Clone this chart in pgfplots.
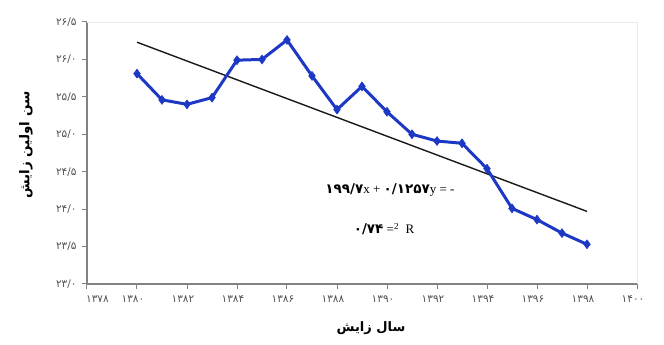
\documentclass[border=0pt]{standalone}
\usepackage{pgfplots}
\pgfplotsset{compat=1.18}
\usepackage{fontspec}
\setmainfont{Liberation Serif}
\newfontfamily\arabicfont[Script=Arabic]{DejaVu Sans}
\TeXXeTstate=1
\definecolor{lineblue}{RGB}{28,56,196}
\definecolor{axgray}{RGB}{130,130,130}
\definecolor{tickgray}{RGB}{80,80,80}
\pgfplotstableread{
year value
1380 25.81
1381 25.46
1382 25.40
1383 25.49
1384 25.99
1385 26.00
1386 26.26
1387 25.78
1388 25.33
1389 25.64
1390 25.30
1391 25.00
1392 24.91
1393 24.88
1394 24.54
1395 24.01
1396 23.86
1397 23.68
1398 23.53
}\agedata
\begin{document}
\begin{tikzpicture}
\useasboundingbox (-87pt,-61pt) rectangle (577pt,284pt);
\begin{axis}[
  at={(0pt,0pt)}, anchor=south west,
  scale only axis, width=550pt, height=262pt,
  xmin=1378, xmax=1400, ymin=23, ymax=26.5,
  axis x line*=bottom, axis y line*=left,
  axis line style={axgray, line width=1.3pt},
  tick align=outside,
  major tick length=5pt,
  tick style={axgray, line width=1pt},
  xtick={1378,1380,...,1400},
  xticklabels={{\hspace{29pt}۱۳۷۸},{۱۳۸۰},{۱۳۸۲},{۱۳۸۴},{۱۳۸۶},{۱۳۸۸},{۱۳۹۰},{۱۳۹۲},{۱۳۹۴},{۱۳۹۶},{۱۳۹۸},{۱۴۰۰}},
  ytick={23,23.5,...,26.5},
  yticklabels={{۲۳/۰},{۲۳/۵},{۲۴/۰},{۲۴/۵},{۲۵/۰},{۲۵/۵},{۲۶/۰},{۲۶/۵}},
  ticklabel style={font=\arabicfont\fontsize{10.5}{12}\selectfont, text=tickgray},
  xticklabel style={yshift=-3pt, xshift=-4pt},
  yticklabel style={xshift=-2pt},
  clip=false,
]
\draw[black!8, line width=0.8pt] (axis cs:1378,26.5) -- (axis cs:1400,26.5) -- (axis cs:1400,23);
\addplot[black!90, line width=1.4pt] coordinates {(1380,26.23) (1398,23.97)};
\addplot[lineblue, line width=3pt, mark=diamond*, mark size=4.5pt,
  mark options={fill=lineblue, draw=lineblue, line width=0.5pt}]
  table[x=year, y=value] {\agedata};
\end{axis}
\node[rotate=90] at (-61pt,139pt) {\arabicfont\bfseries\fontsize{13.5}{15}\selectfont\beginR سن اولین زایش\endR};
\node at (284pt,-44pt) {\arabicfont\bfseries\fontsize{13}{15}\selectfont\beginR سال زایش\endR};
\node at (303pt,94pt) {{\arabicfont\bfseries\fontsize{13.5}{15}\selectfont ۱۹۹/۷}{\fontsize{13}{15}\selectfont x + }{\arabicfont\bfseries\fontsize{13.5}{15}\selectfont ۰/۱۲۵۷}{\fontsize{13}{15}\selectfont y = -}};
\node at (297pt,55pt) {{\arabicfont\bfseries\fontsize{13.5}{15}\selectfont ۰/۷۴}{\fontsize{13}{15}\selectfont\ =\textsuperscript{2}\ \ R}};
\end{tikzpicture}
\end{document}
